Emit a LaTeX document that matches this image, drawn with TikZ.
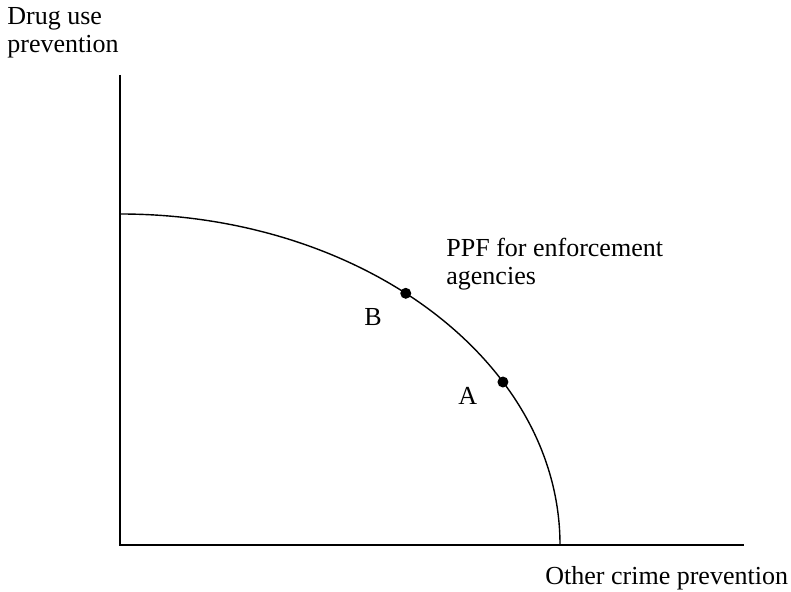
\documentclass[tikz,border=0pt]{standalone}
\usepackage{fontspec}
\setmainfont{Liberation Serif}
\usepackage{tikz}
\usetikzlibrary{calc}

\begin{document}
\begin{tikzpicture}[x=0.5pt,y=0.5pt,inner sep=0pt]
    \tikzstyle{axislabel}=[anchor=base west,align=left,font=\fontsize{13}{14}\selectfont]
    \tikzstyle{ppfpoint}=[circle,fill=black,minimum size=5.5pt]
    \useasboundingbox (0,0) rectangle (791,592);

    \coordinate (O) at (120,47);
    \coordinate (ytop) at (120,517);
    \coordinate (xend) at (744,47);
    \draw[line width=0.8pt] (ytop) -- (O) -- (xend);

    \coordinate (ppfa) at (120,378);
    \draw[line width=0.7pt] (ppfa) arc[start angle=90,end angle=0,x radius=440,y radius=331];

    \node[ppfpoint] (B) at ($(O)+(49.5:440 and 331)$) {};
    \node[ppfpoint] (A) at ($(O)+(29.5:440 and 331)$) {};

    \node[axislabel] (lB) at (364,266) {B};
    \node[axislabel] (lA) at (458,187) {A};

    % base anchor sits on the last line
    \node[axislabel] (ylab) at (7,539) {Drug use\\prevention};
    \node[axislabel] (xlab) at (545,7) {Other crime prevention};
    \node[axislabel] (ppflab) at (446,307) {PPF for enforcement\\agencies};
\end{tikzpicture}
\end{document}
